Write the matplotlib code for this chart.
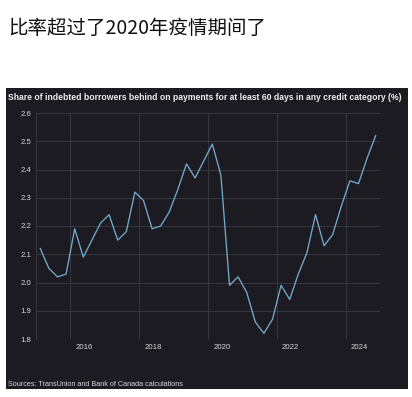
import numpy as np
import pandas as pd
import matplotlib
matplotlib.use("Agg")
import matplotlib.pyplot as plt
import matplotlib.transforms as mtransforms
from matplotlib.patches import Rectangle

# quarterly data, 2015Q1 - 2024Q4
quarters = pd.period_range("2015Q1", "2024Q4", freq="Q")
share = [2.12, 2.05, 2.02, 2.03, 2.19, 2.09, 2.15, 2.21, 2.24, 2.15,
         2.18, 2.32, 2.29, 2.19, 2.20, 2.25, 2.33, 2.42, 2.37, 2.43,
         2.49, 2.38, 1.99, 2.02, 1.965, 1.86, 1.82, 1.87, 1.99, 1.94,
         2.03, 2.105, 2.24, 2.13, 2.17, 2.27, 2.36, 2.35, 2.44, 2.52]
year_ticks = [2016, 2018, 2020, 2022, 2024]
y_ticks = [1.8, 1.9, 2.0, 2.1, 2.2, 2.3, 2.4, 2.5, 2.6]

headline = "比率超过了2020年疫情期间了"
chart_title = "Share of indebted borrowers behind on payments for at least 60 days in any credit category (%)"
source = "Sources: TransUnion and Bank of Canada calculations"

# mid-quarter decimal year
x = quarters.year + (quarters.quarter - 0.5) / 4

bg = "#1c1b22"
grid_c = "#3c3c44"
txt_c = "#d8d8d8"
line_c = "#72aacb"

W, H = 412, 397
fig = plt.figure(figsize=(W / 100, H / 100), dpi=100)
fig.patch.set_facecolor("white")

# dark panel
fig.add_artist(Rectangle((6 / W, 1 - 389 / H), 402 / W, 301 / H,
                         transform=fig.transFigure, facecolor=bg,
                         edgecolor="none", zorder=0))

fig.text(8 / W, 1 - 28 / H, headline, fontsize=14, color="#111111",
         family=["Noto Sans CJK SC", "DejaVu Sans"], va="center", ha="left")
fig.text(8 / W, 1 - 97.5 / H, chart_title, fontsize=6.2, color="#eeeeee",
         family="Liberation Sans", weight="bold", va="center", ha="left")
fig.text(8 / W, 1 - 384.5 / H, source, fontsize=5.2, color=txt_c,
         family="Liberation Sans", va="center", ha="left")

ax = fig.add_axes([36 / W, 1 - 339 / H, 344 / W, 226 / H])
ax.set_facecolor(bg)
ax.plot(x, share, color=line_c, lw=0.95, zorder=3)

ax.set_xlim(2015, 2025)
ax.set_ylim(1.8, 2.6)
ax.set_xticks(year_ticks)
ax.set_yticks(y_ticks)
ax.set_yticklabels([f"{v:.1f}" for v in y_ticks])
ax.grid(True, color=grid_c, lw=0.6)
ax.set_axisbelow(True)
for s in ["top", "right", "bottom"]:
    ax.spines[s].set_visible(False)
ax.spines["left"].set_color(grid_c)
ax.spines["left"].set_linewidth(0.6)
ax.tick_params(length=0, colors=txt_c, labelsize=5.6, pad=3.5)
for lab in ax.get_xticklabels() + ax.get_yticklabels():
    lab.set_family("Liberation Sans")

# year labels sit a little right of the gridlines
shift = mtransforms.ScaledTranslation(14 / 100, 0, fig.dpi_scale_trans)
for lab in ax.get_xticklabels():
    lab.set_transform(lab.get_transform() + shift)

fig.savefig("out.png", dpi=100, facecolor="white")
